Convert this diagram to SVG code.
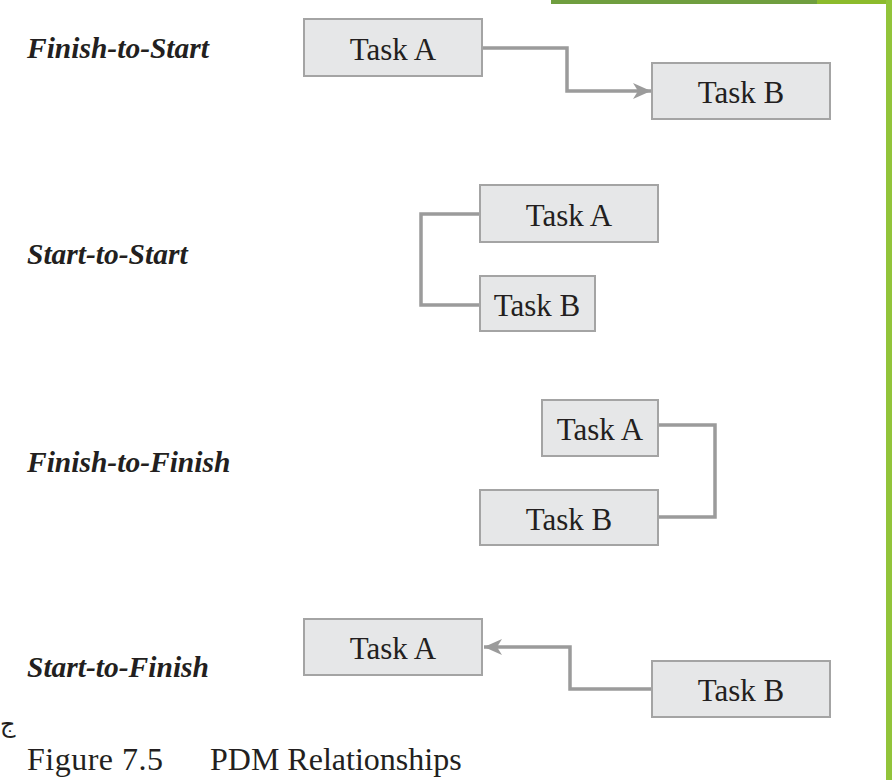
<svg xmlns="http://www.w3.org/2000/svg" width="892" height="780" viewBox="0 0 892 780">
<style>
.box{fill:#e6e7e8;stroke:#a4a4a4;stroke-width:2}
.tt{font-family:'Liberation Serif','Times New Roman',serif;font-size:31px;fill:#231f20;text-anchor:middle}
.lbl{font-family:'Liberation Serif','Times New Roman',serif;font-size:29.5px;font-weight:bold;font-style:italic;fill:#231f20}
.con{fill:none;stroke:#9b9b9b;stroke-width:3.5}
.cap{font-family:'Liberation Serif','Times New Roman',serif;font-size:32px;fill:#231f20}
</style>
<defs>
<marker id="arr" markerUnits="userSpaceOnUse" markerWidth="22" markerHeight="22" refX="20" refY="11" orient="auto">
<path d="M20,11 L2,3 L7,11 L2,19 Z" fill="#9b9b9b"/>
</marker>
</defs>
<rect width="892" height="780" fill="#ffffff"/>
<rect x="551" y="0" width="266" height="4" fill="#6f9e3f"/>
<rect x="817" y="0" width="75" height="4" fill="#8cbb2c"/>
<rect x="886" y="0" width="6" height="780" fill="#92c43a"/>
<text x="0" y="732" font-family="'DejaVu Sans', sans-serif" font-size="24" fill="#231f20">ج</text>

<text class="lbl" x="27" y="58">Finish-to-Start</text>
<text class="lbl" x="27" y="264">Start-to-Start</text>
<text class="lbl" x="27" y="472">Finish-to-Finish</text>
<text class="lbl" x="27" y="677">Start-to-Finish</text>

<g id="connectors">
<polyline class="con" points="482,48 567,48 567,91 651,91" marker-end="url(#arr)"/>
<polyline class="con" points="480,214 421,214 421,305 480,305"/>
<polyline class="con" points="658,425 715,425 715,517 658,517"/>
<polyline class="con" points="652,689 570,689 570,647 484,647" marker-end="url(#arr)"/>
</g>

<g id="fs-a"><rect class="box" x="304" y="19" width="178" height="57"/><text class="tt" x="393" y="60">Task A</text></g>
<g id="fs-b"><rect class="box" x="652" y="63" width="178" height="56"/><text class="tt" x="741" y="103">Task B</text></g>
<g id="ss-a"><rect class="box" x="480" y="185" width="178" height="57"/><text class="tt" x="569" y="226">Task A</text></g>
<g id="ss-b"><rect class="box" x="480" y="276" width="115" height="55"/><text class="tt" x="537" y="316">Task B</text></g>
<g id="ff-a"><rect class="box" x="542" y="400" width="116" height="56"/><text class="tt" x="600" y="440">Task A</text></g>
<g id="ff-b"><rect class="box" x="480" y="490" width="178" height="55"/><text class="tt" x="569" y="530">Task B</text></g>
<g id="sf-a"><rect class="box" x="304" y="619" width="178" height="56"/><text class="tt" x="393" y="659">Task A</text></g>
<g id="sf-b"><rect class="box" x="652" y="661" width="178" height="56"/><text class="tt" x="741" y="701">Task B</text></g>

<text class="cap" x="27" y="770"><tspan textLength="136">Figure 7.5</tspan><tspan x="210">PDM Relationships</tspan></text>
</svg>
